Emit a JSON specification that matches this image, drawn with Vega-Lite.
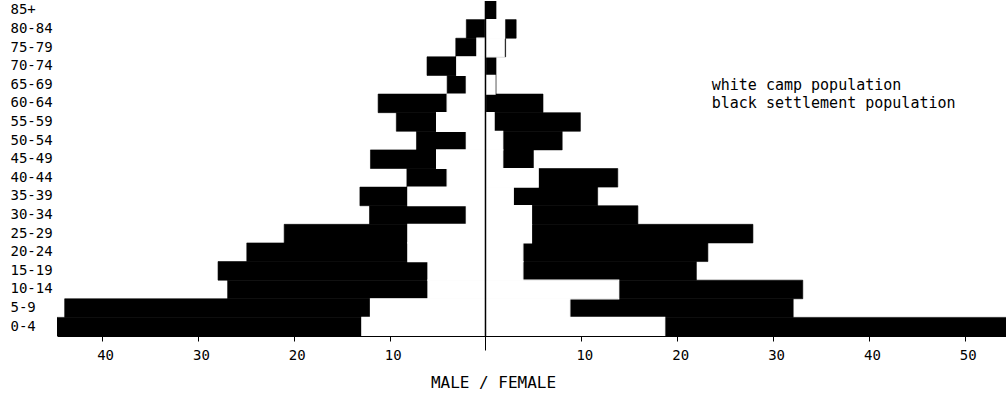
{
  "$schema": "https://vega.github.io/schema/vega-lite/v6.json",
  "autosize": {"type": "none"},
  "padding": {"left": 57, "top": 1, "right": 0, "bottom": 59},
  "width": 949,
  "height": 335,
  "background": "white",
  "config": {"view": {"stroke": null}},
  "datasets": {
    "pop": [
      {"age": "85+", "sex": "male", "group": "settlement", "value": 0},
      {"age": "80-84", "sex": "male", "group": "settlement", "value": -2.0},
      {"age": "75-79", "sex": "male", "group": "settlement", "value": -3.1},
      {"age": "70-74", "sex": "male", "group": "settlement", "value": -6.1},
      {"age": "65-69", "sex": "male", "group": "settlement", "value": -4.0},
      {"age": "60-64", "sex": "male", "group": "settlement", "value": -11.2},
      {"age": "55-59", "sex": "male", "group": "settlement", "value": -9.3},
      {"age": "50-54", "sex": "male", "group": "settlement", "value": -7.2},
      {"age": "45-49", "sex": "male", "group": "settlement", "value": -12.0},
      {"age": "40-44", "sex": "male", "group": "settlement", "value": -8.2},
      {"age": "35-39", "sex": "male", "group": "settlement", "value": -13.1},
      {"age": "30-34", "sex": "male", "group": "settlement", "value": -12.1},
      {"age": "25-29", "sex": "male", "group": "settlement", "value": -21.0},
      {"age": "20-24", "sex": "male", "group": "settlement", "value": -24.9},
      {"age": "15-19", "sex": "male", "group": "settlement", "value": -27.9},
      {"age": "10-14", "sex": "male", "group": "settlement", "value": -26.9},
      {"age": "5-9", "sex": "male", "group": "settlement", "value": -43.9},
      {"age": "0-4", "sex": "male", "group": "settlement", "value": -44.7},
      {"age": "85+", "sex": "female", "group": "settlement", "value": 1.1},
      {"age": "80-84", "sex": "female", "group": "settlement", "value": 3.2},
      {"age": "75-79", "sex": "female", "group": "settlement", "value": 2.1},
      {"age": "70-74", "sex": "female", "group": "settlement", "value": 1.1},
      {"age": "65-69", "sex": "female", "group": "settlement", "value": 1.1},
      {"age": "60-64", "sex": "female", "group": "settlement", "value": 6.0},
      {"age": "55-59", "sex": "female", "group": "settlement", "value": 9.9},
      {"age": "50-54", "sex": "female", "group": "settlement", "value": 8.0},
      {"age": "45-49", "sex": "female", "group": "settlement", "value": 5.0},
      {"age": "40-44", "sex": "female", "group": "settlement", "value": 13.8},
      {"age": "35-39", "sex": "female", "group": "settlement", "value": 11.7},
      {"age": "30-34", "sex": "female", "group": "settlement", "value": 15.9},
      {"age": "25-29", "sex": "female", "group": "settlement", "value": 27.9},
      {"age": "20-24", "sex": "female", "group": "settlement", "value": 23.2},
      {"age": "15-19", "sex": "female", "group": "settlement", "value": 22.0},
      {"age": "10-14", "sex": "female", "group": "settlement", "value": 33.1},
      {"age": "5-9", "sex": "female", "group": "settlement", "value": 32.1},
      {"age": "0-4", "sex": "female", "group": "settlement", "value": 56.0},
      {"age": "85+", "sex": "male", "group": "camp", "value": 0},
      {"age": "80-84", "sex": "male", "group": "camp", "value": 0},
      {"age": "75-79", "sex": "male", "group": "camp", "value": -0.9},
      {"age": "70-74", "sex": "male", "group": "camp", "value": -3.0},
      {"age": "65-69", "sex": "male", "group": "camp", "value": -2.0},
      {"age": "60-64", "sex": "male", "group": "camp", "value": -4.0},
      {"age": "55-59", "sex": "male", "group": "camp", "value": -5.1},
      {"age": "50-54", "sex": "male", "group": "camp", "value": -2.0},
      {"age": "45-49", "sex": "male", "group": "camp", "value": -5.1},
      {"age": "40-44", "sex": "male", "group": "camp", "value": -4.0},
      {"age": "35-39", "sex": "male", "group": "camp", "value": -8.1},
      {"age": "30-34", "sex": "male", "group": "camp", "value": -2.0},
      {"age": "25-29", "sex": "male", "group": "camp", "value": -8.1},
      {"age": "20-24", "sex": "male", "group": "camp", "value": -8.1},
      {"age": "15-19", "sex": "male", "group": "camp", "value": -6.0},
      {"age": "10-14", "sex": "male", "group": "camp", "value": -6.0},
      {"age": "5-9", "sex": "male", "group": "camp", "value": -12.0},
      {"age": "0-4", "sex": "male", "group": "camp", "value": -12.9},
      {"age": "85+", "sex": "female", "group": "camp", "value": 0},
      {"age": "80-84", "sex": "female", "group": "camp", "value": 2.0},
      {"age": "75-79", "sex": "female", "group": "camp", "value": 1.95},
      {"age": "70-74", "sex": "female", "group": "camp", "value": 0},
      {"age": "65-69", "sex": "female", "group": "camp", "value": 1.0},
      {"age": "60-64", "sex": "female", "group": "camp", "value": 0},
      {"age": "55-59", "sex": "female", "group": "camp", "value": 0.9},
      {"age": "50-54", "sex": "female", "group": "camp", "value": 1.8},
      {"age": "45-49", "sex": "female", "group": "camp", "value": 1.8},
      {"age": "40-44", "sex": "female", "group": "camp", "value": 5.5},
      {"age": "35-39", "sex": "female", "group": "camp", "value": 2.9},
      {"age": "30-34", "sex": "female", "group": "camp", "value": 4.8},
      {"age": "25-29", "sex": "female", "group": "camp", "value": 4.8},
      {"age": "20-24", "sex": "female", "group": "camp", "value": 3.9},
      {"age": "15-19", "sex": "female", "group": "camp", "value": 3.9},
      {"age": "10-14", "sex": "female", "group": "camp", "value": 13.9},
      {"age": "5-9", "sex": "female", "group": "camp", "value": 8.8},
      {"age": "0-4", "sex": "female", "group": "camp", "value": 18.7}
    ],
    "legend": [
      {"line": "white  camp population", "row": "65-69"},
      {"line": "black  settlement population", "row": "60-64"}
    ],
    "zero": [
      {"value": 0}
    ]
  },
  "layer": [
    {
      "data": {"name": "pop"},
      "transform": [{"filter": "datum.group === 'settlement'"}],
      "mark": {"type": "bar", "color": "black", "stroke": "black", "strokeWidth": 0.6, "clip": true},
      "encoding": {
        "y": {
          "field": "age",
          "type": "ordinal",
          "sort": null,
          "scale": {
            "domain": ["85+", "80-84", "75-79", "70-74", "65-69", "60-64", "55-59", "50-54", "45-49", "40-44", "35-39", "30-34", "25-29", "20-24", "15-19", "10-14", "5-9", "0-4"],
            "paddingInner": 0,
            "paddingOuter": 0
          },
          "axis": {
            "title": null,
            "ticks": false,
            "domain": false,
            "labelAlign": "left",
            "labelPadding": 47,
            "labelFont": "DejaVu Sans Mono",
            "labelFontSize": 14,
            "labelColor": "black"
          }
        },
        "x": {
          "field": "value",
          "type": "quantitative",
          "scale": {"domain": [-44.7, 54.3], "nice": false, "zero": false},
          "axis": {
            "values": [-40, -30, -20, -10, 0, 10, 20, 30, 40, 50],
            "labelExpr": "datum.value == 0 ? '' : abs(datum.value)",
            "grid": false,
            "domainColor": "black",
            "domainWidth": 1,
            "tickColor": "black",
            "tickSize": {"condition": {"test": "datum.value === 0", "value": 14}, "value": 5},
            "labelFont": "DejaVu Sans Mono",
            "labelFontSize": 14,
            "labelColor": "black",
            "labelPadding": 7,
            "labelOffset": 3,
            "title": "MALE / FEMALE",
            "titleFont": "DejaVu Sans Mono",
            "titleFontSize": 16,
            "titleFontWeight": "normal",
            "titleColor": "black",
            "titlePadding": 12,
            "titleX": 436
          }
        }
      }
    },
    {
      "data": {"name": "pop"},
      "transform": [{"filter": "datum.group === 'camp' && datum.value != 0"}],
      "mark": {"type": "bar", "color": "white", "stroke": "white", "strokeWidth": 1.2, "clip": true},
      "encoding": {
        "y": {
          "field": "age",
          "type": "ordinal",
          "sort": null,
          "scale": {
            "domain": ["85+", "80-84", "75-79", "70-74", "65-69", "60-64", "55-59", "50-54", "45-49", "40-44", "35-39", "30-34", "25-29", "20-24", "15-19", "10-14", "5-9", "0-4"]
          }
        },
        "x": {"field": "value", "type": "quantitative"}
      }
    },
    {
      "data": {"name": "zero"},
      "mark": {"type": "rule", "color": "black", "strokeWidth": 1.5},
      "encoding": {"x": {"field": "value", "type": "quantitative"}}
    },
    {
      "data": {"name": "legend"},
      "mark": {
        "type": "text",
        "align": "left",
        "baseline": "middle",
        "font": "DejaVu Sans Mono",
        "fontSize": 15,
        "color": "black"
      },
      "encoding": {
        "x": {"datum": 23.6},
        "y": {
          "field": "row",
          "type": "ordinal",
          "sort": null,
          "scale": {
            "domain": ["85+", "80-84", "75-79", "70-74", "65-69", "60-64", "55-59", "50-54", "45-49", "40-44", "35-39", "30-34", "25-29", "20-24", "15-19", "10-14", "5-9", "0-4"]
          }
        },
        "text": {"field": "line"}
      }
    }
  ]
}
